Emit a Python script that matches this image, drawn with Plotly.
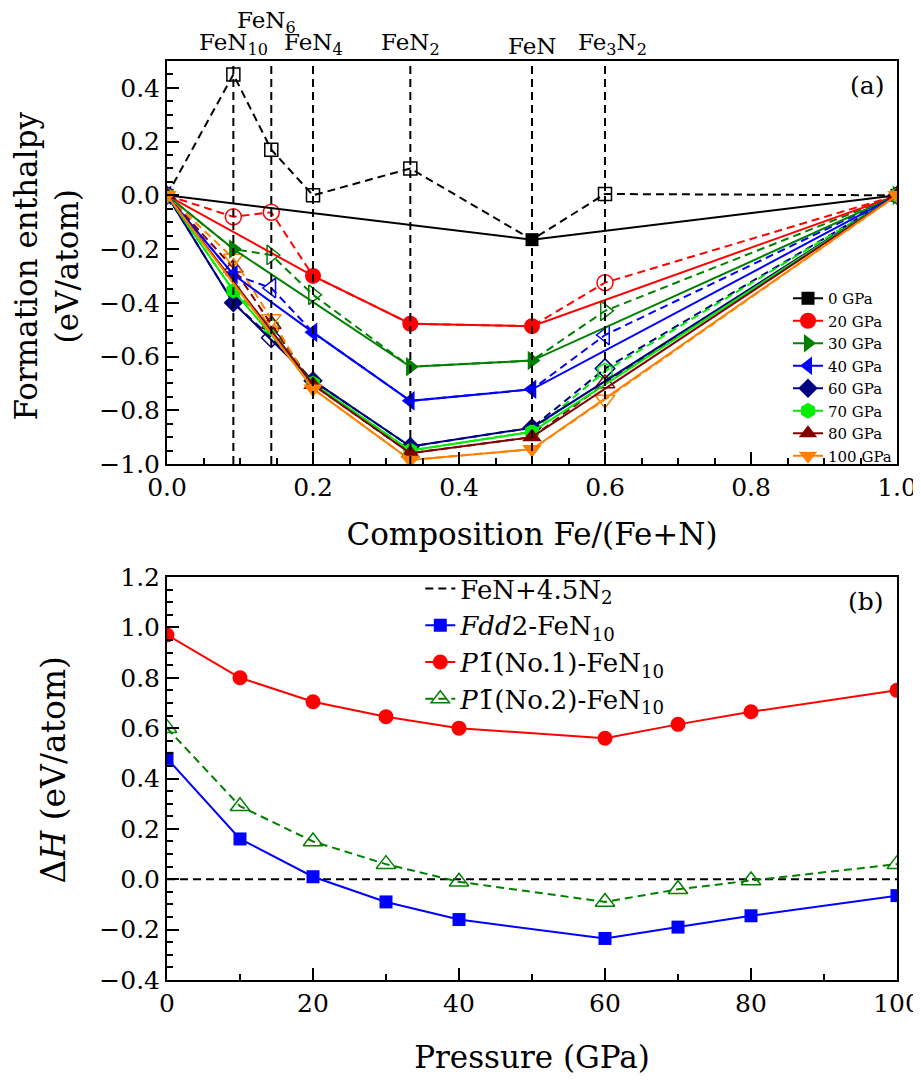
import plotly.graph_objects as go

# ---------------- data: panel (a) ----------------
composition = [0.0, 1/11, 1/7, 1/5, 1/3, 1/2, 3/5, 1.0]
phase_labels = ["FeN<sub>10</sub>", "FeN<sub>6</sub>", "FeN<sub>4</sub>", "FeN<sub>2</sub>", "FeN", "Fe<sub>3</sub>N<sub>2</sub>"]
pressure_names = ["0 GPa", "20 GPa", "30 GPa", "40 GPa", "60 GPa", "70 GPa", "80 GPa", "100 GPa"]

h_0 = [0.0, 0.45, 0.17, 0.0, 0.10, -0.165, 0.005, 0.0]
h_20 = [0.0, -0.08, -0.063, -0.30, -0.478, -0.487, -0.325, 0.0]
h_30 = [0.0, -0.20, -0.222, -0.37, -0.638, -0.615, -0.43, 0.0]
h_40 = [0.0, -0.295, -0.345, -0.51, -0.765, -0.722, -0.52, 0.0]
h_60 = [0.0, -0.40, -0.53, -0.69, -0.935, -0.865, -0.645, 0.0]
h_70 = [0.0, -0.355, -0.49, -0.70, -0.95, -0.88, -0.655, 0.0]
h_80 = [0.0, -0.27, -0.48, -0.705, -0.96, -0.90, -0.70, 0.0]
h_100 = [0.0, -0.235, -0.46, -0.72, -0.985, -0.945, -0.76, 0.0]

hull_0 = [0, 5, 7]
hull_20 = [0, 3, 4, 5, 7]
hull_30 = [0, 1, 4, 5, 7]
hull_40 = [0, 1, 3, 4, 5, 7]
hull_60 = [0, 1, 3, 4, 5, 7]
hull_70 = [0, 1, 3, 4, 5, 7]
hull_80 = [0, 3, 4, 5, 7]
hull_100 = [0, 3, 4, 5, 7]

# ---------------- data: panel (b) ----------------
pressure = [0, 10, 20, 30, 40, 60, 70, 80, 100]
dh_fdd2 = [0.48, 0.16, 0.01, -0.09, -0.16, -0.235, -0.19, -0.145, -0.065]
dh_p1_no1 = [0.97, 0.80, 0.705, 0.645, 0.60, 0.56, 0.615, 0.665, 0.75]
dh_p1_no2 = [0.60, 0.29, 0.15, 0.06, -0.01, -0.09, -0.04, -0.005, 0.06]
ref_pressure = [0, 100]
ref_dh = [0.0, 0.0]

# ---------------- styles ----------------
colors = ["#000000", "#ff0000", "#008000", "#0000ff", "#000080", "#00ee00", "#800000", "#ff8000"]
symbols = ["square", "circle", "triangle-right", "triangle-left", "diamond", "hexagon", "triangle-up", "triangle-down"]
msizes = [13, 16, 17, 17, 15, 16, 17, 17]

FONT = "DejaVu Serif"
DASH = "8px,5px"

series = list(zip(pressure_names, [h_0, h_20, h_30, h_40, h_60, h_70, h_80, h_100],
                  [hull_0, hull_20, hull_30, hull_40, hull_60, hull_70, hull_80, hull_100],
                  colors, symbols, msizes))

fig = go.Figure()

# dashed lines through all structures with open markers at off-hull points
for name, h, hull, c, s, ms in series:
    off = [i for i in range(len(composition)) if i not in hull]
    fig.add_trace(go.Scatter(
        x=composition, y=h, mode="lines", xaxis="x", yaxis="y",
        line=dict(color=c, width=2, dash=DASH), showlegend=False, hoverinfo="skip"))
    fig.add_trace(go.Scatter(
        x=[composition[i] for i in off], y=[h[i] for i in off], mode="markers",
        xaxis="x", yaxis="y",
        marker=dict(symbol=s + "-open", size=ms, color=c, line=dict(width=1.5, color=c)),
        showlegend=False))

# solid convex hulls
for name, h, hull, c, s, ms in series:
    fig.add_trace(go.Scatter(
        x=[composition[i] for i in hull], y=[h[i] for i in hull], mode="lines+markers",
        xaxis="x", yaxis="y", name=name, legend="legend",
        line=dict(color=c, width=2),
        marker=dict(symbol=s, size=ms, color=c, line=dict(width=0))))

# panel (b)
fig.add_trace(go.Scatter(x=ref_pressure, y=ref_dh, mode="lines", xaxis="x2", yaxis="y2",
                         name="FeN+4.5N<sub>2</sub>", legend="legend2",
                         line=dict(color="black", width=2, dash=DASH)))
fig.add_trace(go.Scatter(x=pressure, y=dh_fdd2, mode="lines+markers", xaxis="x2", yaxis="y2",
                         name="<i>Fdd</i>2-FeN<sub>10</sub>", legend="legend2",
                         line=dict(color="#0000ff", width=2),
                         marker=dict(symbol="square", size=13, color="#0000ff")))
fig.add_trace(go.Scatter(x=pressure, y=dh_p1_no1, mode="lines+markers", xaxis="x2", yaxis="y2",
                         name="<i>P</i>1\u0304(No.1)-FeN<sub>10</sub>", legend="legend2",
                         line=dict(color="#ff0000", width=2),
                         marker=dict(symbol="circle", size=15, color="#ff0000")))
fig.add_trace(go.Scatter(x=pressure, y=dh_p1_no2, mode="lines+markers", xaxis="x2", yaxis="y2",
                         name="<i>P</i>1\u0304(No.2)-FeN<sub>10</sub>", legend="legend2",
                         line=dict(color="#008000", width=2, dash=DASH),
                         marker=dict(symbol="triangle-up-open", size=17, color="#008000",
                                     line=dict(width=1.5, color="#008000"))))

# vertical dashed lines at compound compositions
for xv in composition[1:7]:
    fig.add_shape(type="line", xref="x", yref="y domain", x0=xv, x1=xv, y0=0, y1=1,
                  line=dict(color="black", width=2, dash=DASH), layer="above")

axis_common = dict(
    showline=True, linecolor="black", linewidth=2, mirror=True,
    ticks="inside", ticklen=12, tickwidth=2, tickcolor="black",
    showgrid=False, zeroline=False, automargin=False,
    tickfont=dict(family=FONT, size=25, color="black"),
)
minor_common = dict(ticks="inside", ticklen=6, tickwidth=1.5, tickcolor="black", showgrid=False)

# the page body adds an 8px offset, so the figure is 8px smaller than the window
fig.update_layout(
    width=913, height=1072,
    margin=dict(l=159, r=24, t=53, b=100),
    plot_bgcolor="white", paper_bgcolor="white",
    font=dict(family=FONT, color="black"),
    xaxis=dict(**axis_common, domain=[0, 1], anchor="y", range=[0, 1], dtick=0.2, tickformat=".1f",
               minor=dict(dtick=0.05, **minor_common),
               title=dict(text="Composition Fe/(Fe+N)", font=dict(family=FONT, size=31), standoff=22)),
    yaxis=dict(**axis_common, domain=[0.5615, 1], anchor="x", range=[-1.0, 0.5], dtick=0.2, tickformat=".1f",
               minor=dict(dtick=0.05, **minor_common)),
    xaxis3=dict(overlaying="x", side="top", anchor="y", range=[0, 1], showline=False, automargin=False,
                tickvals=composition[1:7], ticks="inside", ticklen=8, tickwidth=2, tickcolor="black",
                showticklabels=False, showgrid=False, zeroline=False),
    xaxis2=dict(**axis_common, domain=[0, 1], anchor="y2", range=[0, 100], dtick=20,
                minor=dict(dtick=10, **minor_common),
                title=dict(text="Pressure (GPa)", font=dict(family=FONT, size=31), standoff=29)),
    yaxis2=dict(**axis_common, domain=[0, 0.4385], anchor="x2", range=[-0.4, 1.2], dtick=0.2, tickformat=".1f",
                minor=dict(dtick=0.05, **minor_common)),
    legend=dict(x=1.0, xanchor="right", y=0.7595, yanchor="top", bgcolor="rgba(255,255,255,0)",
                font=dict(family=FONT, size=15, color="black"), itemwidth=30, tracegroupgap=0),
    legend2=dict(x=0.347, xanchor="left", y=0.4516, yanchor="top", bgcolor="rgba(255,255,255,0)",
                 font=dict(family=FONT, size=26, color="black"), itemwidth=30),
)

# y axis titles
fig.add_annotation(x=0, xref="paper", xshift=-121, y=0.49, yref="y domain", textangle=-90,
                   text="Formation enthalpy<br>(eV/atom)", showarrow=False,
                   xanchor="center", yanchor="middle", font=dict(family=FONT, size=31, color="black"))
fig.add_annotation(x=0, xref="paper", xshift=-114, y=0.52, yref="y2 domain", textangle=-90,
                   text="Δ<i>H</i> (eV/atom)", showarrow=False,
                   xanchor="center", yanchor="middle", font=dict(family=FONT, size=33, color="black"))

# compound labels on top of panel (a)
label_shift = [(0, 0), (-5, 22), (0, 0), (0, 0), (0, 0), (7, 0)]
for xv, lab, (dx, dy) in zip(composition[1:7], phase_labels, label_shift):
    fig.add_annotation(x=xv, xref="x", y=1, yref="y domain", text=lab, showarrow=False,
                       yanchor="bottom", xanchor="center", xshift=dx, yshift=dy,
                       font=dict(family=FONT, size=23, color="black"))

fig.add_annotation(x=0.985, xref="x domain", y=0.98, yref="y domain", text="(a)", showarrow=False,
                   xanchor="right", yanchor="top", font=dict(family=FONT, size=25, color="black"))
fig.add_annotation(x=0.985, xref="x2 domain", y=0.98, yref="y2 domain", text="(b)", showarrow=False,
                   xanchor="right", yanchor="top", font=dict(family=FONT, size=25, color="black"))

fig.write_html("out.html")
